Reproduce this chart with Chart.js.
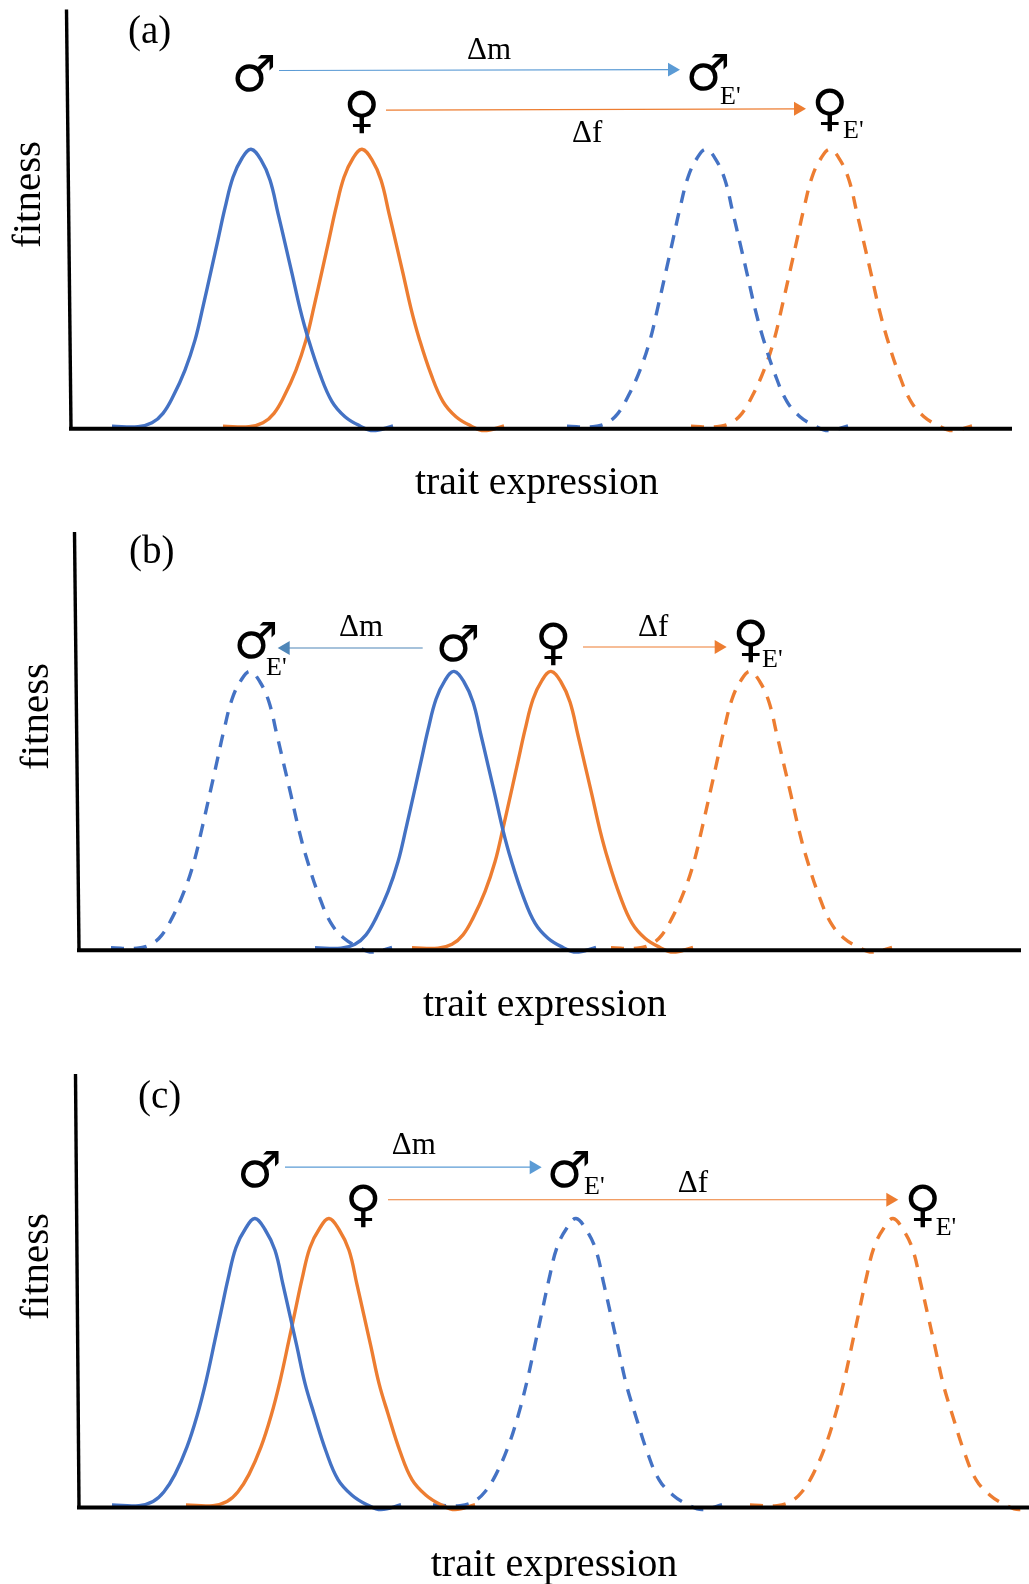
<!DOCTYPE html>
<html>
<head>
<meta charset="utf-8">
<script src="https://cdn.jsdelivr.net/npm/chart.js@4/dist/chart.umd.min.js"></script>
<style>
  html, body { margin: 0; padding: 0; background: #fff; }
  #page { position: relative; width: 1029px; height: 1584px; overflow: hidden; }
  canvas { position: absolute; left: 0; }
</style>
</head>
<body>
<div id="page">
  <canvas id="panelA"></canvas>
  <canvas id="panelB"></canvas>
  <canvas id="panelC"></canvas>
</div>
<script>
//? DATA
// all curves are the same pasted shape, so they share the fitness levels
const fitness = [0.009, 0.007, 0.021, 0.055, 0.115, 0.21, 0.317, 0.437, 0.58, 0.677, 0.79, 0.90, 0.968, 1, 0.962, 0.89, 0.771, 0.664, 0.556, 0.43, 0.325, 0.195, 0.097, 0.043, 0.01, -0.007, 0.01];

const traitA_male = [112, 138, 152, 163, 173, 185, 195, 203, 212, 218, 225, 233, 242, 251, 261, 270, 278, 285, 292, 300, 308, 320, 332, 345, 360, 373, 393];
const traitA_female = [223, 249, 263, 274, 284, 296, 306, 314, 323, 329, 336, 344, 353, 362, 372, 381, 389, 396, 403, 411, 419, 431, 443, 456, 471, 484, 504];
const traitA_maleE = [567, 593, 607, 618, 628, 640, 650, 658, 667, 673, 680, 688, 697, 706, 716, 725, 733, 740, 747, 755, 763, 775, 787, 800, 815, 828, 848];
const traitA_femaleE = [691, 717, 731, 742, 752, 764, 774, 782, 791, 797, 804, 812, 821, 830, 840, 849, 857, 864, 871, 879, 887, 899, 911, 924, 939, 952, 972];

const traitB_male = [315, 341, 355, 366, 376, 388, 398, 406, 415, 421, 428, 436, 445, 454, 464, 473, 481, 488, 495, 503, 511, 523, 535, 548, 563, 576, 596];
const traitB_female = [412, 438, 452, 463, 473, 485, 495, 503, 512, 518, 525, 533, 542, 551, 561, 570, 578, 585, 592, 600, 608, 620, 632, 645, 660, 673, 693];
const traitB_maleE = [111, 137, 151, 162, 172, 184, 194, 202, 211, 217, 224, 232, 241, 250, 260, 269, 277, 284, 291, 299, 307, 319, 331, 344, 359, 372, 392];
const traitB_femaleE = [611, 637, 651, 662, 672, 684, 694, 702, 711, 717, 724, 732, 741, 750, 760, 769, 777, 784, 791, 799, 807, 819, 831, 844, 859, 872, 892];

const traitC_male = [112, 139, 153, 164, 175, 187, 197, 206, 215, 221, 228, 236, 246, 255, 265, 275, 283, 290, 297, 305, 314, 326, 338, 352, 367, 381, 401];
const traitC_female = [186, 213, 227, 238, 249, 261, 271, 280, 289, 295, 302, 310, 320, 329, 339, 349, 357, 364, 371, 379, 388, 400, 412, 426, 441, 455, 475];
const traitC_maleE = [433, 460, 474, 485, 496, 508, 518, 527, 536, 542, 549, 557, 567, 576, 586, 596, 604, 611, 618, 626, 635, 647, 659, 673, 688, 702, 722];
const traitC_femaleE = [750, 777, 791, 802, 813, 825, 835, 844, 853, 859, 866, 874, 884, 893, 903, 913, 921, 928, 935, 943, 952, 964, 976, 990, 1005, 1019, 1039];

//? STYLE
const BLUE = '#4472c4';
const ORANGE = '#ed7d31';
const ARROW_BLUE = '#5b9bd5';
const SERIF = '"Liberation Serif", serif';
const SYMBOL = '"DejaVu Sans", sans-serif';
const HEAD = 8;

//? PANEL LAYOUT (page pixels)
const panels = [
    {
        id: 'panelA', top: 0, height: 510, plotTop: 9.6, baseline: 428.7,
        curves: [traitA_male, traitA_female, traitA_maleE, traitA_femaleE],
        yAxis: [66.5, 71], xAxis: [69, 1012],
        arrows: [
            { from: [279, 1.282], to: [672, 1.285], color: ARROW_BLUE },
            { from: [386, 1.14], to: [798, 1.145], color: ORANGE },
        ],
        texts: [
            { t: '(a)', x: 128, y: 43, size: 39 },
            { t: 'Δm', x: 467, y: 59, size: 31 },
            { t: 'Δf', x: 572, y: 141.5, size: 31 },
            { t: "E'", x: 720, y: 104, size: 26 },
            { t: "E'", x: 843, y: 138, size: 26 },
            { t: 'trait expression', x: 415, y: 494, size: 39.7 },
            { t: 'fitness', x: 40, y: 248, size: 41, rot: true },
        ],
        symbols: [
            { t: '♂', cx: 254, cy: 73 },
            { t: '♀', cx: 362, cy: 112 },
            { t: '♂', cx: 708, cy: 71.5 },
            { t: '♀', cx: 830, cy: 110 },
        ],
    },
    {
        id: 'panelB', top: 515, height: 530, plotTop: 532, baseline: 950.2,
        curves: [traitB_male, traitB_female, traitB_maleE, traitB_femaleE],
        yAxis: [74.5, 79], xAxis: [77, 1021],
        arrows: [
            { from: [422.7, 1.084], to: [285.7, 1.084], color: '#4f86b8' },
            { from: [583, 1.0875], to: [718.7, 1.0875], color: ORANGE },
        ],
        texts: [
            { t: '(b)', x: 129, y: 563, size: 39 },
            { t: 'Δm', x: 339, y: 636, size: 31 },
            { t: 'Δf', x: 638, y: 635.7, size: 31 },
            { t: "E'", x: 266, y: 675, size: 26 },
            { t: "E'", x: 762, y: 667, size: 26 },
            { t: 'trait expression', x: 423, y: 1015.5, size: 39.7 },
            { t: 'fitness', x: 48, y: 770, size: 41, rot: true },
        ],
        symbols: [
            { t: '♂', cx: 256, cy: 640 },
            { t: '♂', cx: 458, cy: 643 },
            { t: '♀', cx: 553.5, cy: 644 },
            { t: '♀', cx: 751, cy: 641 },
        ],
    },
    {
        id: 'panelC', top: 1060, height: 524, plotTop: 1074, baseline: 1507.6,
        curves: [traitC_male, traitC_female, traitC_maleE, traitC_femaleE],
        yAxis: [75.5, 79], xAxis: [77, 1029],
        arrows: [
            { from: [285, 1.1775], to: [533.7, 1.1775], color: ARROW_BLUE },
            { from: [388, 1.065], to: [890.3, 1.065], color: ORANGE },
        ],
        texts: [
            { t: '(c)', x: 138, y: 1107.7, size: 39 },
            { t: 'Δm', x: 391.7, y: 1154.3, size: 31 },
            { t: 'Δf', x: 677.7, y: 1191.7, size: 31 },
            { t: "E'", x: 584, y: 1194, size: 26 },
            { t: "E'", x: 935.7, y: 1235, size: 26 },
            { t: 'trait expression', x: 430.7, y: 1575.7, size: 40.2 },
            { t: 'fitness', x: 48, y: 1320, size: 41, rot: true },
        ],
        symbols: [
            { t: '♂', cx: 259.5, cy: 1169 },
            { t: '♀', cx: 363.5, cy: 1206 },
            { t: '♂', cx: 569, cy: 1169 },
            { t: '♀', cx: 923, cy: 1206 },
        ],
    },
];

const curveStyles = [
    { borderColor: BLUE, borderDash: [] },
    { borderColor: ORANGE, borderDash: [] },
    { borderColor: BLUE, borderDash: [13, 10] },
    { borderColor: ORANGE, borderDash: [13, 10] },
];

//? text goes straight on the canvas, in page pixels
const panelText = {
    id: 'panelText',
    afterDraw(chart, args, opts) {
        const ctx = chart.ctx;
        const p = opts.panel;
        ctx.save();
        ctx.fillStyle = '#000';
        ctx.textAlign = 'left';
        ctx.textBaseline = 'alphabetic';
        p.texts.forEach(l => {
            ctx.font = `${l.size}px ${SERIF}`;
            ctx.save();
            ctx.translate(l.x, l.y - p.top);
            if (l.rot) ctx.rotate(-Math.PI / 2);
            ctx.fillText(l.t, 0, 0);
            ctx.restore();
        });
        ctx.font = `50px ${SYMBOL}`;
        p.symbols.forEach(s => {
            const m = ctx.measureText(s.t);
            const dx = (m.actualBoundingBoxRight - m.actualBoundingBoxLeft) / 2;
            const dy = (m.actualBoundingBoxDescent - m.actualBoundingBoxAscent) / 2;
            ctx.fillText(s.t, s.cx - dx, s.cy - p.top - dy);
        });
        ctx.restore();
    }
};

function buildChart(p) {
    const canvas = document.getElementById(p.id);
    canvas.width = 1029;
    canvas.height = p.height;
    canvas.style.top = p.top + 'px';

    const datasets = [];
    // axes first so they sit on top of the curve feet
    datasets.push({ data: [{ x: p.yAxis[0], y: 1.5 }, { x: p.yAxis[1], y: 0 }], borderColor: '#000', borderWidth: 3.4 });
    datasets.push({ data: [{ x: p.xAxis[0], y: 0 }, { x: p.xAxis[1], y: 0 }], borderColor: '#000', borderWidth: 4 });

    p.arrows.forEach(a => {
        const right = a.to[0] > a.from[0];
        datasets.push({
            data: [{ x: a.from[0], y: a.from[1] }, { x: a.to[0], y: a.to[1] }],
            borderColor: a.color,
            borderWidth: 1.2,
            pointRadius: [0, HEAD],
            pointStyle: 'triangle',
            pointRotation: right ? 90 : -90,
            pointBackgroundColor: a.color,
            pointBorderWidth: 0,
        });
    });

    p.curves.forEach((xs, i) => {
        datasets.push({
            data: xs.map((x, j) => ({ x: x, y: fitness[j] })),
            borderWidth: 3.4,
            tension: 0.4,
            ...curveStyles[i],
        });
    });

    return new Chart(canvas, {
        type: 'line',
        data: { datasets: datasets },
        options: {
            responsive: false,
            animation: false,
            devicePixelRatio: 1,
            parsing: false,
            clip: false,
            elements: { point: { radius: 0 } },
            layout: { autoPadding: false, padding: { top: p.plotTop - p.top, bottom: p.top + p.height - p.baseline, left: 0, right: 0 } },
            scales: {
                x: { type: 'linear', display: false, min: 0, max: 1029 },
                y: { type: 'linear', display: false, min: 0, max: 1.5 },
            },
            plugins: { legend: { display: false }, tooltip: { enabled: false }, panelText: { panel: p } },
        },
        plugins: [panelText],
    });
}

panels.forEach(buildChart);
</script>
</body>
</html>
